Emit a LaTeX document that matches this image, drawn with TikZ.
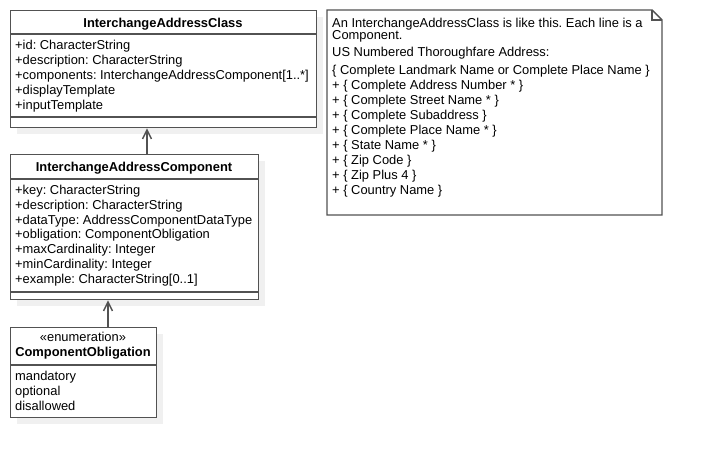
\documentclass[tikz,border=0pt]{standalone}
\usepackage{fontspec}
\setmainfont{Liberation Sans}
\usetikzlibrary{arrows.meta}
\begin{document}
\frenchspacing
\begin{tikzpicture}[x=1bp,y=-1bp,
  umlline/.style={draw=black!68, line width=1.4bp},
  umlbox/.style={umlline, fill=white, rectangle, inner sep=0pt, anchor=north west},
  shadowbox/.style={fill=black!6, draw=none},
  txt/.style={font=\frenchspacing\fontsize{12.9bp}{15bp}\selectfont, inner sep=0pt, anchor=base west},
  ttl/.style={font=\bfseries\fontsize{12.9bp}{15bp}\selectfont, inner sep=0pt, anchor=base},
  inh/.style={umlline, -{Straight Barb[length=9bp,width=9bp,line width=1.4bp]}},
  notebox/.style={umlline, fill=white}
]
\useasboundingbox (0,0) rectangle (703,457);
% shadows
\fill[shadowbox] (17,17) rectangle (323,134);
\fill[shadowbox] (17,161) rectangle (265,306);
\fill[shadowbox] (17,334) rectangle (163,424);
% box 1
\node[umlbox, minimum width=306bp, minimum height=117bp] (c1) at (10,10) {};
\draw[umlline] (10,34) -- (316,34) (10,117) -- (316,117);
\node[ttl] (c1t) at (163,27.5) {InterchangeAddressClass};
\node[txt] (c1a) at (15,49.5) {+id: CharacterString};
\node[txt] (c1b) at (15,64.5) {+description: CharacterString};
\node[txt] (c1c) at (15,79.5) {+components: InterchangeAddressComponent[1..*]};
\node[txt] (c1d) at (15,94.5) {+displayTemplate};
\node[txt] (c1e) at (15,109.5) {+inputTemplate};
% box 2
\node[umlbox, minimum width=248bp, minimum height=145bp] (c2) at (10,154) {};
\draw[umlline] (10,179) -- (258,179) (10,292) -- (258,292);
\node[ttl] (c2t) at (134,171.5) {InterchangeAddressComponent};
\node[txt] (c2a) at (15,194.5) {+key: CharacterString};
\node[txt] (c2b) at (15,209.5) {+description: CharacterString};
\node[txt] (c2c) at (15,224.5) {+dataType: AddressComponentDataType};
\node[txt] (c2d) at (15,239) {+obligation: ComponentObligation};
\node[txt] (c2e) at (15,254) {+maxCardinality: Integer};
\node[txt] (c2f) at (15,269) {+minCardinality: Integer};
\node[txt] (c2g) at (15,284) {+example: CharacterString[0..1]};
% box 3
\node[umlbox, minimum width=146bp, minimum height=90bp] (c3) at (10,327) {};
\draw[umlline] (10,365) -- (156,365);
\node[txt, anchor=base] (c3s) at (83,341.5) {«enumeration»};
\node[ttl] (c3t) at (83,356.5) {ComponentObligation};
\node[txt] (c3a) at (15,380.5) {mandatory};
\node[txt] (c3b) at (15,395.5) {optional};
\node[txt] (c3c) at (15,410.5) {disallowed};
% connectors
\coordinate (a1s) at (c2.north -| 147,0);
\coordinate (a1e) at (c1.south -| 147,0);
\draw[inh] (a1s) -- (a1e);
\coordinate (a2s) at (c3.north -| 108,0);
\coordinate (a2e) at (c2.south -| 108,0);
\draw[inh] (a2s) -- (a2e);
% note
\draw[notebox] (327,10) -- (652,10) -- (662,20) -- (662,215) -- (327,215) -- cycle;
\draw[umlline] (652,10) -- (652,20) -- (662,20);
\node[txt] (n1) at (332,27.5) {An InterchangeAddressClass is like this. Each line is a};
\node[txt] (n2) at (332,40) {Component.};
\node[txt] (n3) at (332,57) {US Numbered Thoroughfare Address:};
\node[txt] (n4) at (332,74.5) {\{ Complete Landmark Name or Complete Place Name \}};
\node[txt] (n5) at (332,89.5) {+ \{ Complete Address Number * \}};
\node[txt] (n6) at (332,104.5) {+ \{ Complete Street Name * \}};
\node[txt] (n7) at (332,119.5) {+ \{ Complete Subaddress \}};
\node[txt] (n8) at (332,134.5) {+ \{ Complete Place Name * \}};
\node[txt] (n9) at (332,149.5) {+ \{ State Name * \}};
\node[txt] (n10) at (332,164.5) {+ \{ Zip Code \}};
\node[txt] (n11) at (332,179.5) {+ \{ Zip Plus 4 \}};
\node[txt] (n12) at (332,194.5) {+ \{ Country Name \}};
\end{tikzpicture}
\end{document}
